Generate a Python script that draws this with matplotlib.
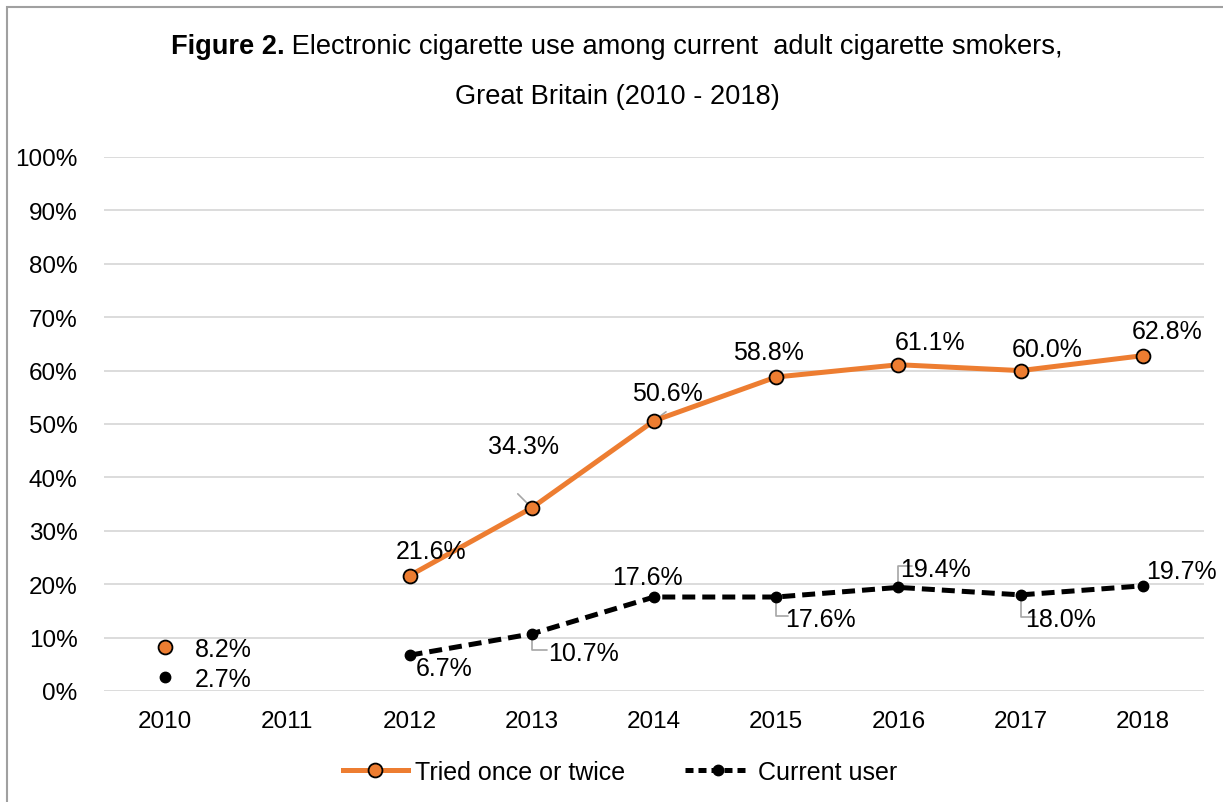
import numpy as np
import matplotlib
matplotlib.use('Agg')
import matplotlib.pyplot as plt
from matplotlib.lines import Line2D
from matplotlib.patches import Rectangle

plt.rcParams['font.family'] = ['Liberation Sans', 'DejaVu Sans']

#### DATA ####
years = ['2010', '2011', '2012', '2013', '2014', '2015', '2016', '2017', '2018']
tried = [8.2, np.nan, 21.6, 34.3, 50.6, 58.8, 61.1, 60.0, 62.8]
current = [2.7, np.nan, 6.7, 10.7, 17.6, 17.6, 19.4, 18.0, 19.7]
y_ticks = [0, 10, 20, 30, 40, 50, 60, 70, 80, 90, 100]

# label offsets in pixels (dx, dy up) from each point, and leader line start (None = no leader)
tried_off = [(58, -2), None, (22, 25), (-8, 62), (13, 28), (-8, 25), (32, 23), (27, 22), (24, 25)]
tried_lead = [None, None, None, (-14, 14), (12, 9), None, None, None, None]
cur_off = [(58, -2), None, (35, -13), (52, -19), (-7, 20), (44, -22), (37, 18), (40, -24), (39, 15)]
cur_lead = [None, None, None, (15, -16), None, (12, -19), (14, 21), (14, -22), None]

ORANGE = '#ED7D31'
FS = 18
TFS = 19.6

fig = plt.figure(figsize=(12.23, 8.03), dpi=100)
ax = fig.add_axes([104/1223, 1-692/803, 1100/1223, 534/803])

x = np.arange(len(years))
ax.plot(x, tried, '-o', color=ORANGE, lw=3.6, markersize=10,
        markerfacecolor=ORANGE, markeredgecolor='black', markeredgewidth=1.3, zorder=4)
ax.plot(x, current, '--o', color='black', lw=3.6, dashes=(2.6, 1.4), markersize=7.5, zorder=4)

def add_labels(vals, offs, leads):
    for i, v in enumerate(vals):
        if np.isnan(v):
            continue
        ax.annotate('%.1f%%' % v, xy=(x[i], v), xytext=offs[i], textcoords='offset pixels',
                    ha='center', va='center', fontsize=FS, zorder=5)
        if leads[i] is not None:
            # diagonal leaders for the upper labels, elbow leaders otherwise
            style = 'arc3' if i in (3, 4) and vals is tried else 'angle,angleA=0,angleB=90,rad=0'
            ax.annotate('', xy=(x[i], v), xytext=leads[i], textcoords='offset pixels',
                        arrowprops=dict(arrowstyle='-', color='#a6a6a6', lw=1.2,
                                        connectionstyle=style, shrinkA=0, shrinkB=3),
                        zorder=3)

add_labels(tried, tried_off, tried_lead)
add_labels(current, cur_off, cur_lead)

ax.set_xlim(-0.5, len(years) - 0.5)
ax.set_ylim(0, 100)
ax.set_yticks(y_ticks)
ax.set_yticklabels(['%d%%' % t for t in y_ticks])
ax.set_xticks(x)
ax.set_xticklabels(years)
ax.tick_params(length=0, labelsize=17.5, colors='black')
ax.tick_params(axis='y', pad=19)
ax.tick_params(axis='x', pad=14)
ax.grid(axis='y', color='#d9d9d9', lw=1.3)
ax.set_axisbelow(True)
for s in ax.spines.values():
    s.set_visible(False)

# title: bold lead-in + regular text, centred together
r = fig.canvas.get_renderer()
t1 = fig.text(0, 1-47/803, 'Figure 2.', ha='left', va='center', fontsize=TFS, fontweight='bold')
t2 = fig.text(0, 1-47/803, ' Electronic cigarette use among current  adult cigarette smokers,',
              ha='left', va='center', fontsize=TFS)
w1 = t1.get_window_extent(r).width
w2 = t2.get_window_extent(r).width
x0 = 617 - (w1 + w2) / 2
t1.set_x(x0 / 1223)
t2.set_x((x0 + w1) / 1223)
fig.text(617/1223, 1-97/803, 'Great Britain (2010 - 2018)', ha='center', va='center', fontsize=TFS)

handles = [Line2D([], [], color=ORANGE, lw=3.6, marker='o', markersize=10,
                  markerfacecolor=ORANGE, markeredgecolor='black', markeredgewidth=1.3),
           Line2D([], [], color='black', lw=3.6, ls='--', dashes=(1.6, 1.0), marker='o', markersize=7.5)]
fig.legend(handles, ['Tried once or twice', 'Current user'], loc='center',
           bbox_to_anchor=(620/1223, 1-773/803), ncol=2, frameon=False, fontsize=FS,
           handlelength=2.6, columnspacing=2.4, handletextpad=0.3)

fig.patches.append(Rectangle((7/1223, -0.05), 1.1, 1-8/803+0.05, transform=fig.transFigure,
                             fill=False, edgecolor='#a0a0a0', lw=1.5))

fig.savefig('out.png', dpi=100)
